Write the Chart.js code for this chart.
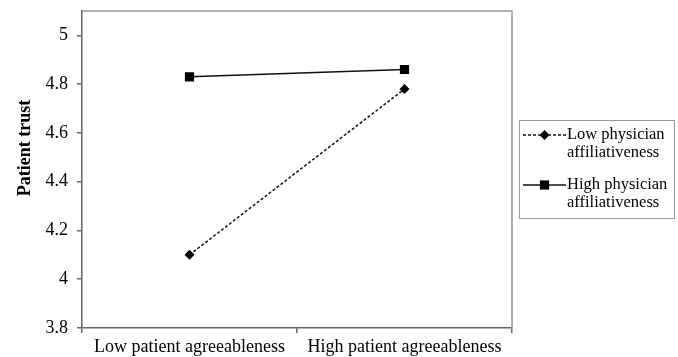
<!DOCTYPE html>
<html>
<head>
<meta charset="utf-8">
<script src="https://cdn.jsdelivr.net/npm/chart.js@4/dist/chart.umd.min.js"></script>
<style>
  html, body { margin: 0; padding: 0; background: #fff; }
  #wrap { width: 678px; height: 357px; }
</style>
</head>
<body>
<div id="wrap"><canvas id="chart" width="678" height="357"></canvas></div>
<script>
const categories = ['Low patient agreeableness', 'High patient agreeableness'];
const lowPhysician = [4.10, 4.78];
const highPhysician = [4.83, 4.86];
const seriesNames = [['Low physician', 'affiliativeness'], ['High physician', 'affiliativeness']];
const yTitle = 'Patient trust';

const serif = '"Liberation Serif", "Times New Roman", serif';
const axisGray = '#666';
const frameGray = '#999';

// frame on top/right, y title and the two-line legend box
const extras = {
    id: 'extras',
    afterDraw(chart) {
        const ctx = chart.ctx;
        const a = chart.chartArea;
        ctx.save();
        ctx.strokeStyle = frameGray;
        ctx.lineWidth = 1.5;
        ctx.beginPath();
        ctx.moveTo(a.left, a.top);
        ctx.lineTo(a.right, a.top);
        ctx.lineTo(a.right, a.bottom);
        ctx.stroke();

        // y title
        ctx.fillStyle = '#000';
        ctx.font = 'bold 18px ' + serif;
        ctx.textAlign = 'center';
        ctx.textBaseline = 'middle';
        ctx.translate(25, 148);
        ctx.rotate(-Math.PI / 2);
        ctx.fillText(yTitle, 0, 0);
        ctx.restore();

        // legend
        ctx.save();
        ctx.strokeStyle = frameGray;
        ctx.lineWidth = 1;
        ctx.strokeRect(519.5, 120.5, 155, 98);
        ctx.font = '16.5px ' + serif;
        ctx.textBaseline = 'middle';
        ctx.textAlign = 'left';
        chart.data.datasets.forEach((ds, i) => {
            const y = 135 + i * 50;
            ctx.strokeStyle = ds.borderColor;
            ctx.lineWidth = ds.borderWidth;
            ctx.setLineDash(ds.borderDash || []);
            ctx.beginPath();
            ctx.moveTo(523, y);
            ctx.lineTo(566, y);
            ctx.stroke();
            ctx.setLineDash([]);
            ctx.fillStyle = ds.pointBackgroundColor;
            Chart.helpers.drawPoint(ctx, {
                pointStyle: ds.pointStyle,
                radius: ds.pointRadius,
                rotation: 0,
                borderWidth: 0
            }, 544.5, y);
            ctx.fillStyle = '#000';
            seriesNames[i].forEach((t, j) => ctx.fillText(t, 567, y + j * 18));
        });
        ctx.restore();
    }
};

new Chart(document.getElementById('chart'), {
    type: 'line',
    data: {
        labels: categories,
        datasets: [
            {
                label: seriesNames[0].join(' '),
                data: lowPhysician,
                borderColor: '#111',
                borderWidth: 1.5,
                borderDash: [3, 2],
                pointStyle: 'rectRot',
                pointRadius: 5,
                pointBackgroundColor: '#000',
                pointBorderWidth: 0,
                tension: 0
            },
            {
                label: seriesNames[1].join(' '),
                data: highPhysician,
                borderColor: '#111',
                borderWidth: 1.5,
                pointStyle: 'rect',
                pointRadius: 6.5,
                pointBackgroundColor: '#000',
                pointBorderWidth: 0,
                tension: 0
            }
        ]
    },
    options: {
        responsive: false,
        animation: false,
        layout: { padding: { top: 11, right: 166, left: 0, bottom: 0 } },
        plugins: { legend: { display: false }, tooltip: { enabled: false } },
        scales: {
            x: {
                offset: true,
                grid: { offset: true, drawOnChartArea: false, tickLength: 5, color: axisGray, lineWidth: 1.5 },
                border: { color: axisGray, width: 1.5 },
                ticks: { color: '#000', font: { family: serif, size: 18 }, padding: 3, maxRotation: 0 },
                afterFit(scale) { scale.height = 29; }
            },
            y: {
                min: 3.8,
                max: 5.1,
                grid: { drawOnChartArea: false, tickLength: 5, color: axisGray, lineWidth: 1.5 },
                border: { color: axisGray, width: 1.5 },
                ticks: {
                    stepSize: 0.2,
                    includeBounds: false,
                    color: '#000',
                    font: { family: serif, size: 18 },
                    padding: 9,
                    callback: v => String(+v.toFixed(1))
                },
                afterFit(scale) {
                    scale.width = 82;
                    scale.paddingTop = 0;
                    scale.paddingBottom = 0;
                }
            }
        }
    },
    plugins: [extras]
});
</script>
</body>
</html>
